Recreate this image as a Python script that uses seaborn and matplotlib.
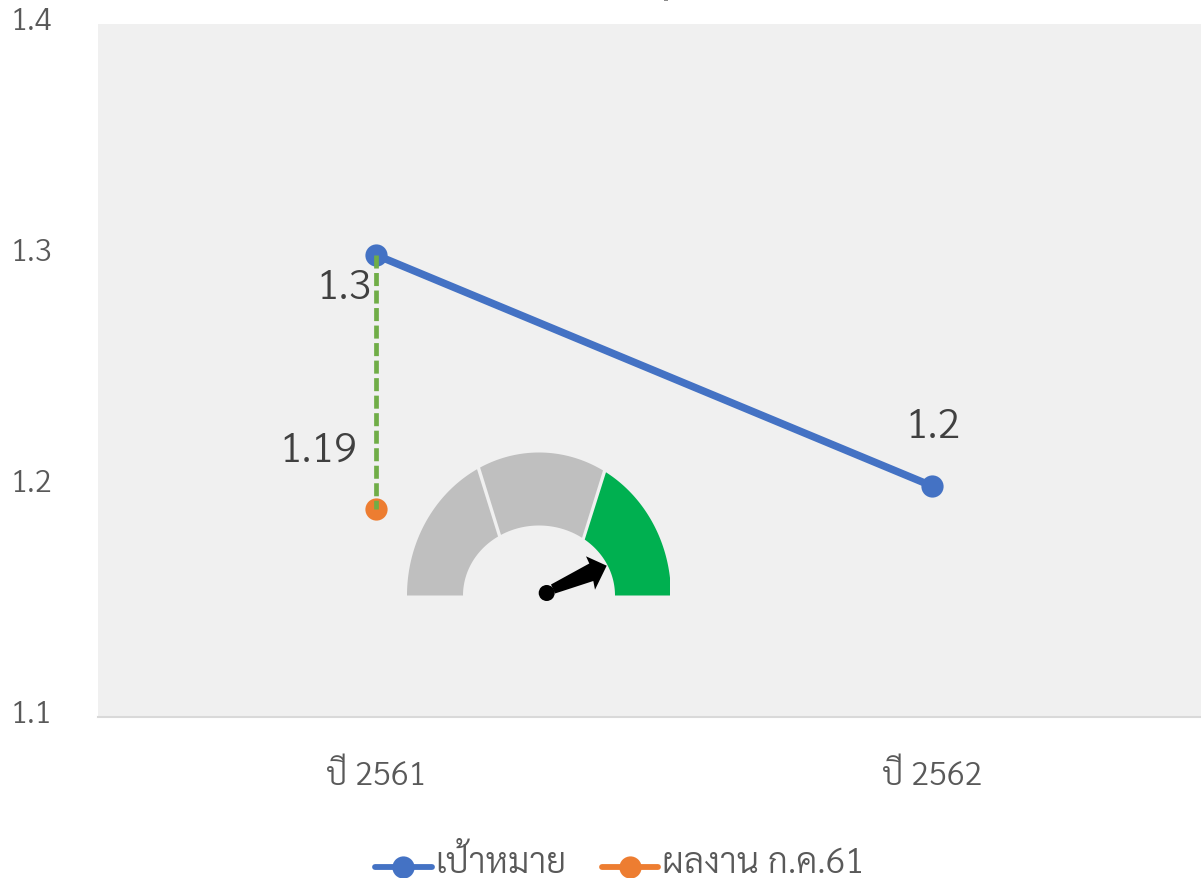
import numpy as np
import pandas as pd
import seaborn as sns
import matplotlib
matplotlib.use('Agg')
import matplotlib.pyplot as plt
from matplotlib import font_manager as fm
from matplotlib.patches import Polygon, Circle, Rectangle
from matplotlib.transforms import ScaledTranslation
from matplotlib.ft2font import FT2Font

categories = ["ปี 2561", "ปี 2562"]
target_values = [1.3, 1.2]
actual_values = [1.19, np.nan]
series_names = ["เป้าหมาย", "ผลงาน ก.ค.61"]
y_ticks = [1.1, 1.2, 1.3, 1.4]
y_tick_labels = ["1.1", "1.2", "1.3", "1.4"]

sns.set_theme(style="white")
thai = sorted({f.name for f in fm.fontManager.ttflist if 0x0E1B in FT2Font(f.fname).get_charmap()})
pick = [n for n in ["Sarabun Light", "Sarabun", "IBM Plex Sans Thai Light", "FreeSerif"] if n in thai]
plt.rcParams['font.family'] = pick + ['DejaVu Sans']
plt.rcParams['font.weight'] = 300

W, H = 1201, 879
fig = plt.figure(figsize=(W / 100, H / 100), dpi=100, facecolor='white')
L, R, T, B = 98, 1201, 25, 718
ax = fig.add_axes([L / W, 1 - B / H, (R - L) / W, (B - T) / H], facecolor='#f0f0f0')

df = pd.DataFrame({
    'cat': categories * 2,
    'value': target_values + actual_values,
    'series': [series_names[0]] * 2 + [series_names[1]] * 2,
})
palette = {series_names[0]: '#4472c4', series_names[1]: '#ed7d31'}
sns.lineplot(data=df, x='cat', y='value', hue='series', palette=palette, ax=ax,
             marker='o', markersize=16, markeredgewidth=0, linewidth=5.4,
             legend=False, sort=False, estimator=None, zorder=3)
ax.plot([categories[0], categories[0]], [target_values[0], actual_values[0]], color='#70ad47',
        linewidth=3.4, linestyle=(0, (2.76, 0.95)), dash_capstyle='butt', zorder=4)

ax.set_ylim(1.1, 1.4)
ax.set_xlim(-0.5, -0.5 + (R - L) / 556)
ax.set_yticks(y_ticks)
ax.set_yticklabels(y_tick_labels)
ax.set_xlabel(''); ax.set_ylabel('')
tick_col = '#595959'
ax.tick_params(axis='y', left=False, pad=27.2, labelsize=22.5, labelcolor=tick_col)
ax.tick_params(axis='x', bottom=False, pad=24.5, labelsize=23.5, labelcolor=tick_col)
up = ScaledTranslation(0, 5.2 / 72, fig.dpi_scale_trans)
for lab in ax.get_yticklabels():
    lab.set_transform(lab.get_transform() + up)
for s in ['top', 'left', 'right']:
    ax.spines[s].set_visible(False)
ax.spines['bottom'].set_color('#d9d9d9')
ax.spines['bottom'].set_linewidth(1.5)

# data labels, offset in pixels from their points
for xc, yv, txt, dx, dy, fs in [(categories[0], target_values[0], f"{target_values[0]:g}", -32, -32, 30),
                                (categories[1], target_values[1], f"{target_values[1]:g}", 1, 60, 30),
                                (categories[0], actual_values[0], f"{actual_values[0]:g}", -57.5, 59, 30)]:
    ax.annotate(txt, (xc, yv), xytext=(dx, dy), textcoords='offset pixels', fontsize=fs,
                color='#404040', ha='center', va='center', zorder=5)

# overlay in pixel space for the gauge picture
ov = fig.add_axes([0, 0, 1, 1], facecolor='none')
ov.set_xlim(0, W); ov.set_ylim(H, 0); ov.axis('off')
ov.add_patch(Rectangle((664, 0), 4, 1.5, facecolor='#8c8c8c', edgecolor='none'))

cx, cy = 539, 596.5
def band(t_out0, t_out1, t_in0, t_in1, color):
    a = np.radians(np.linspace(t_out0, t_out1, 60))
    b = np.radians(np.linspace(t_in1, t_in0, 60))
    pts = np.r_[np.c_[cx + 132 * np.cos(a), cy - 143 * np.sin(a)],
                np.c_[cx + 76 * np.cos(b), cy - 70 * np.sin(b)]]
    pts[:, 0] = np.minimum(pts[:, 0], 670)
    ov.add_patch(Polygon(pts, closed=True, facecolor=color, edgecolor='none'))
band(180, 118, 180, 122.6, '#bfbfbf')
band(116.5, 61, 120, 55.5, '#bfbfbf')
band(59.5, 0, 53, 0, '#00b050')
ov.add_patch(Polygon([(551, 585.5), (589.3, 564.5), (586, 557.3), (606.7, 566.7), (595, 590.7),
                      (593.3, 582), (555, 594.5)], closed=True, facecolor='black', edgecolor='none'))
ov.add_patch(Circle((546.7, 594), 8, facecolor='black', edgecolor='none'))

# legend
handles = [plt.Line2D([], [], color=palette[n], marker='o', markersize=16, markeredgewidth=0,
                      linewidth=4.2, solid_capstyle='round') for n in series_names]
leg = fig.legend(handles, series_names, loc='center', bbox_to_anchor=(619.5 / W, 1 - 871 / H),
                 ncol=2, frameon=False, fontsize=25.5, labelcolor=tick_col, handlelength=1.6,
                 handletextpad=0.1, columnspacing=1.0, borderpad=0)
for t in leg.get_texts():
    t.set_y(8)
fig.savefig('out.png', dpi=100)
